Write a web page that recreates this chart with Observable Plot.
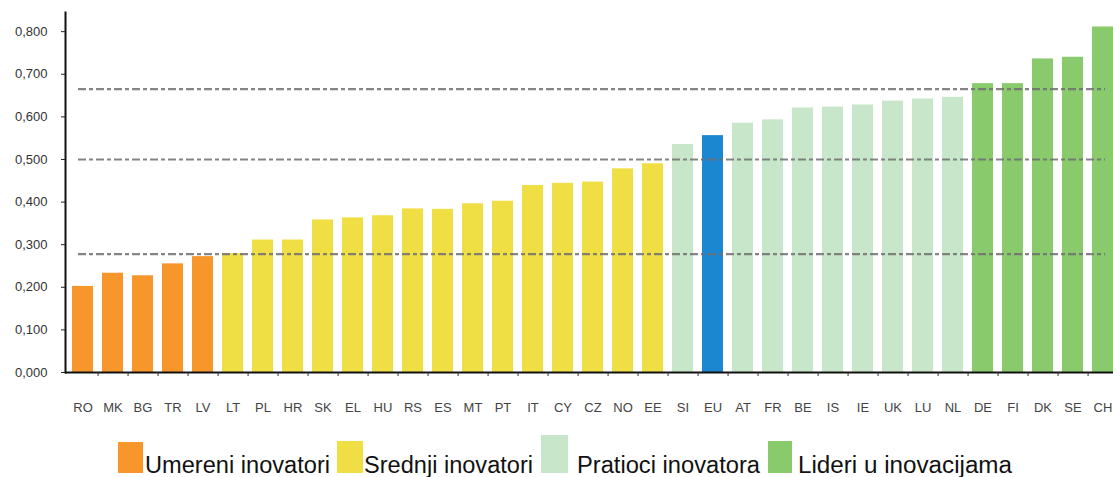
<!DOCTYPE html>
<html>
<head>
<meta charset="utf-8">
<script src="https://cdn.jsdelivr.net/npm/d3@7"></script>
<script src="https://cdn.jsdelivr.net/npm/@observablehq/plot@0.6"></script>
<style>
  html, body { margin: 0; padding: 0; background: #fff; }
  #chart svg { display: block; font-family: "Liberation Sans", Arial, sans-serif; overflow: visible; }
  #legend { display: block; }
</style>
</head>
<body>
<div id="chart"></div>
<svg id="legend" width="1113" height="47"></svg>
<script>
const countries = ["RO","MK","BG","TR","LV","LT","PL","HR","SK","EL","HU","RS","ES","MT","PT","IT","CY","CZ","NO","EE","SI","EU","AT","FR","BE","IS","IE","UK","LU","NL","DE","FI","DK","SE","CH"];
const values = [0.202,0.233,0.227,0.255,0.272,0.279,0.311,0.311,0.358,0.363,0.368,0.384,0.383,0.396,0.402,0.439,0.444,0.447,0.478,0.490,0.535,0.556,0.585,0.593,0.621,0.623,0.628,0.637,0.642,0.646,0.678,0.678,0.736,0.740,0.811];
const groups = ["Umereni inovatori","Umereni inovatori","Umereni inovatori","Umereni inovatori","Umereni inovatori",
  "Srednji inovatori","Srednji inovatori","Srednji inovatori","Srednji inovatori","Srednji inovatori","Srednji inovatori","Srednji inovatori","Srednji inovatori","Srednji inovatori","Srednji inovatori","Srednji inovatori","Srednji inovatori","Srednji inovatori","Srednji inovatori","Srednji inovatori",
  "Pratioci inovatora","EU","Pratioci inovatora","Pratioci inovatora","Pratioci inovatora","Pratioci inovatora","Pratioci inovatora","Pratioci inovatora","Pratioci inovatora","Pratioci inovatora",
  "Lideri u inovacijama","Lideri u inovacijama","Lideri u inovacijama","Lideri u inovacijama","Lideri u inovacijama"];
const groupNames = ["Umereni inovatori","Srednji inovatori","Pratioci inovatora","Lideri u inovacijama","EU"];
const groupColors = ["#F7962B","#F0DE45","#C8E6C9","#88CA6C","#1C87D1"];
const thresholds = [0.278, 0.5, 0.665];
const yTicks = [0, 0.1, 0.2, 0.3, 0.4, 0.5, 0.6, 0.7, 0.8];

const data = countries.map((c, i) => ({country: c, value: values[i], group: groups[i]}));

const chart = Plot.plot({
  width: 1113,
  height: 430,
  marginLeft: 65,
  marginRight: 0,
  marginTop: 12,
  marginBottom: 58,
  x: {domain: countries, range: [65, 1120], paddingInner: 0.3, paddingOuter: 0.15, label: null},
  y: {domain: [0, 0.845], label: null},
  color: {domain: groupNames, range: groupColors},
  marks: [
    Plot.barY(data, {x: "country", y: "value", fill: "group"}),
    Plot.ruleY(thresholds, {stroke: "#707070", strokeWidth: 2.2, strokeDasharray: "8,3,4,3", strokeOpacity: 0.85, insetLeft: 13, insetRight: 8}),
    Plot.frame({anchor: "left", stroke: "#111", strokeWidth: 2}),
    Plot.ruleY([0], {stroke: "#111", strokeWidth: 2}),
    Plot.axisY({ticks: yTicks, tickSize: 4, tickPadding: 14, tickFormat: d => d.toFixed(3).replace(".", ","), fontSize: 13, fill: "#333", stroke: "#222", label: null}),
    Plot.axisX({tickSize: 0, tickPadding: 30, fontSize: 13, fill: "#444", label: null}),
    Plot.axisX({tickSize: 4, dx: 15.07, tickFormat: () => "", stroke: "#333", label: null})
  ]
});
document.getElementById("chart").appendChild(chart);

// legend
const legendItems = [
  {name: groupNames[0], color: groupColors[0], sx: 118, sw: 25, sy: 12, tx: 145, tl: 185},
  {name: groupNames[1], color: groupColors[1], sx: 337, sw: 26, sy: 11, tx: 364, tl: 169},
  {name: groupNames[2], color: groupColors[2], sx: 541, sw: 27, sy: 5, tx: 577, tl: 183},
  {name: groupNames[3], color: groupColors[3], sx: 768, sw: 24, sy: 11, tx: 798, tl: 214}
];
const lg = d3.select("#legend");
lg.selectAll("rect").data(legendItems).join("rect")
  .attr("x", d => d.sx).attr("y", d => d.sy)
  .attr("width", d => d.sw).attr("height", d => 43 - d.sy)
  .attr("fill", d => d.color);
lg.selectAll("text").data(legendItems).join("text")
  .attr("x", d => d.tx).attr("y", 43)
  .attr("textLength", d => d.tl).attr("lengthAdjust", "spacingAndGlyphs")
  .attr("font-family", "'Liberation Sans', Arial, sans-serif")
  .attr("font-size", 23).attr("fill", "#111")
  .text(d => d.name);
</script>
</body>
</html>
